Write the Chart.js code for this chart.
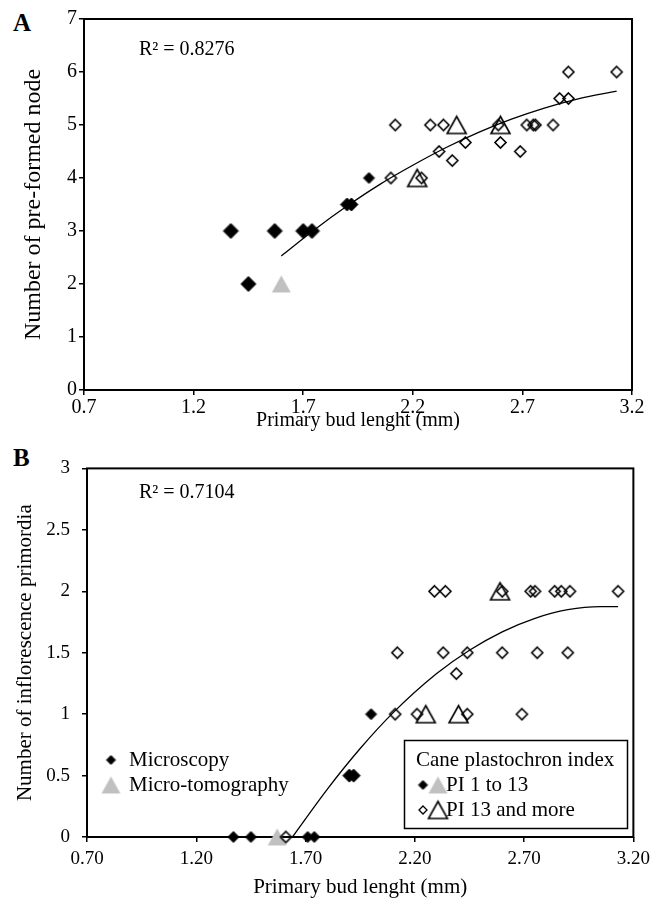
<!DOCTYPE html>
<html>
<head>
<meta charset="utf-8">
<title>Primary bud length</title>
<script src="https://cdn.jsdelivr.net/npm/chart.js@4/dist/chart.umd.min.js"></script>
<style>
  html, body { margin: 0; padding: 0; background: #fff; }
  body { position: relative; width: 656px; height: 908px; overflow: hidden; font-family: "Liberation Serif", "Times New Roman", serif; }
  canvas { position: absolute; left: 0; }
  #chartA { top: 0; }
  #chartB { top: 445px; }
  .tag { position: absolute; left: 13px; font-size: 25px; font-weight: bold; line-height: 1; }
</style>
</head>
<body>
<div class="tag" style="top: 10px;">A</div>
<div class="tag" style="top: 445px;">B</div>
<canvas id="chartA" width="656" height="445"></canvas>
<canvas id="chartB" width="656" height="463"></canvas>
<script>
// ---- panel A: pre-formed nodes ----
const xTicksA = [0.7, 1.2, 1.7, 2.2, 2.7, 3.2];
const xLabelsA = ['0.7', '1.2', '1.7', '2.2', '2.7', '3.2'];
const yTicksA = [0, 1, 2, 3, 4, 5, 6, 7];
const yLabelsA = ['0', '1', '2', '3', '4', '5', '6', '7'];

// microscopy, PI 1 to 13
const earlyMicroAx = [1.37, 1.45, 1.57, 1.70, 1.74, 1.90, 1.92, 2.00];
const earlyMicroAy = [3, 2, 3, 3, 3, 3.5, 3.5, 4];
// micro-tomography, PI 1 to 13
const earlyTomoAx = [1.60];
const earlyTomoAy = [2];
// microscopy, PI 13 and more
const lateMicroAx = [2.10, 2.12, 2.24, 2.28, 2.32, 2.34, 2.38, 2.44, 2.59, 2.60, 2.69, 2.72, 2.75, 2.76, 2.84, 2.87, 2.91, 2.91, 3.13];
const lateMicroAy = [4, 5, 4, 5, 4.5, 5, 4.33, 4.67, 5, 4.67, 4.5, 5, 5, 5, 5, 5.5, 5.5, 6, 6];
// micro-tomography, PI 13 and more
const lateTomoAx = [2.22, 2.40, 2.60];
const lateTomoAy = [4, 5, 5];
// fitted trend (R2 = 0.8276)
const trendAx = [1.60, 1.75, 1.90, 2.05, 2.20, 2.35, 2.50, 2.65, 2.80, 2.95, 3.13];
const trendAy = [2.53, 3.02, 3.47, 3.88, 4.24, 4.57, 4.86, 5.11, 5.32, 5.49, 5.64];

// ---- panel B: inflorescence primordia ----
const xTicksB = [0.7, 1.2, 1.7, 2.2, 2.7, 3.2];
const xLabelsB = ['0.70', '1.20', '1.70', '2.20', '2.70', '3.20'];
const yTicksB = [0, 0.5, 1, 1.5, 2, 2.5, 3];
const yLabelsB = ['0', '0.5', '1', '1.5', '2', '2.5', '3'];

const earlyMicroBx = [1.37, 1.45, 1.71, 1.74, 1.90, 1.92, 2.00];
const earlyMicroBy = [0, 0, 0, 0, 0.5, 0.5, 1];
const earlyTomoBx = [1.57];
const earlyTomoBy = [0];
const lateMicroBx = [1.61, 2.11, 2.21, 2.44, 2.69, 2.12, 2.33, 2.44, 2.60, 2.76, 2.90, 2.39, 2.29, 2.34, 2.60, 2.73, 2.75, 2.84, 2.87, 2.91, 3.13];
const lateMicroBy = [0, 1, 1, 1, 1, 1.5, 1.5, 1.5, 1.5, 1.5, 1.5, 1.33, 2, 2, 2, 2, 2, 2, 2, 2, 2];
const lateTomoBx = [2.25, 2.40, 2.59];
const lateTomoBy = [1, 1, 2];
// fitted trend (R2 = 0.7104)
const trendBx = [1.64, 1.80, 1.95, 2.10, 2.30, 2.45, 2.60, 2.75, 2.90, 3.05, 3.13];
const trendBy = [0, 0.39, 0.72, 1.01, 1.33, 1.52, 1.67, 1.78, 1.85, 1.875, 1.875];

const FONT = '"Liberation Serif", "Times New Roman", serif';
Chart.defaults.font.family = FONT;
Chart.defaults.color = '#000';

const pts = (xs, ys) => xs.map((x, i) => ({ x: x, y: ys[i] }));

// marker bitmaps, centred on their bounding box
function marker(shape, w, h, fill, stroke, lw) {
    const c = document.createElement('canvas');
    c.width = Math.ceil(w) + 6;
    c.height = Math.ceil(h) + 6;
    const g = c.getContext('2d');
    const cx = c.width / 2, cy = c.height / 2;
    g.beginPath();
    if (shape === 'diamond') {
        g.moveTo(cx, cy - h / 2);
        g.lineTo(cx + w / 2, cy);
        g.lineTo(cx, cy + h / 2);
        g.lineTo(cx - w / 2, cy);
    } else {
        g.moveTo(cx, cy - h / 2);
        g.lineTo(cx + w / 2, cy + h / 2);
        g.lineTo(cx - w / 2, cy + h / 2);
    }
    g.closePath();
    if (fill) { g.fillStyle = fill; g.fill(); }
    if (stroke) { g.lineWidth = lw; g.strokeStyle = stroke; g.stroke(); }
    return c;
}

const GREY = '#c0c0c0';
const blackBig = marker('diamond', 15, 15, '#000', '#000', 1);
const blackMid = marker('diamond', 13, 13, '#000', '#000', 1);
const blackSmall = marker('diamond', 11, 11, '#000', '#000', 1);
const blackTiny = marker('diamond', 9, 9, '#000', '#000', 1);
const openDia = marker('diamond', 11, 11, null, '#000', 1.6);
const openTiny = marker('diamond', 8, 8, null, '#000', 1.3);
const openTri = marker('triangle', 19, 17, null, '#000', 1.6);
const greyTri = marker('triangle', 19, 17, GREY, null, 0);

function scatterSet(data, style) {
    return { data: data, pointStyle: style, pointRadius: 8, pointHoverRadius: 8, showLine: false, clip: false, order: 1 };
}

function trendSet(data) {
    return {
        data: data, showLine: true, pointRadius: 0, borderColor: '#000', borderWidth: 1.3,
        cubicInterpolationMode: 'monotone', fill: false, clip: false, order: 2
    };
}

// box round the plot area
const frame = {
    id: 'frame',
    beforeDatasetsDraw(chart) {
        const { ctx, chartArea: a } = chart;
        ctx.save();
        ctx.lineWidth = 2;
        ctx.strokeStyle = '#000';
        ctx.strokeRect(a.left, a.top, a.right - a.left, a.bottom - a.top);
        ctx.restore();
    }
};

function rSquared(text, x, y) {
    return {
        id: 'rsq',
        afterDatasetsDraw(chart) {
            const ctx = chart.ctx;
            ctx.save();
            ctx.font = '20px ' + FONT;
            ctx.fillStyle = '#000';
            ctx.textBaseline = 'middle';
            ctx.fillText(text, x, y);
            ctx.restore();
        }
    };
}

function makePanel(id, o) {
    return new Chart(document.getElementById(id), {
        type: 'scatter',
        data: { datasets: o.datasets },
        options: {
            responsive: false,
            animation: false,
            events: [],
            layout: { padding: o.padding },
            plugins: { legend: { display: false }, tooltip: { enabled: false } },
            scales: {
                x: {
                    type: 'linear', min: 0.7, max: 3.2,
                    afterBuildTicks: s => { s.ticks = o.xTicks.map(v => ({ value: v })); },
                    afterFit: s => { s.height = o.xAxisH; },
                    ticks: { callback: (v, i) => o.xLabels[i], font: { size: o.tickSize }, padding: o.xPad, maxRotation: 0, autoSkip: false },
                    grid: { drawOnChartArea: false, tickLength: 5, color: '#000', lineWidth: 1.5 },
                    border: { display: false },
                    title: { display: true, text: 'Primary bud lenght (mm)', font: { size: o.xTitleSize }, padding: { top: 0, bottom: o.xTitlePad } }
                },
                y: {
                    type: 'linear', min: o.yTicks[0], max: o.yTicks[o.yTicks.length - 1],
                    afterBuildTicks: s => { s.ticks = o.yTicks.map(v => ({ value: v })); },
                    afterFit: s => { s.width = o.yAxisW; },
                    ticks: { callback: (v, i) => o.yLabels[i], font: { size: o.tickSize }, padding: o.yPad, autoSkip: false },
                    grid: { drawOnChartArea: false, tickLength: 5, color: '#000', lineWidth: 1.5 },
                    border: { display: false },
                    title: { display: true, text: o.yTitle, font: { size: o.yTitleSize }, padding: { top: o.yTitlePad, bottom: 0 } }
                }
            }
        },
        plugins: [frame].concat(o.extra)
    });
}

// legends of panel B: method on the left, plastochron index in the box
const legendB = {
    id: 'legendB',
    afterDatasetsDraw(chart) {
        const ctx = chart.ctx;
        const put = (img, x, y) => ctx.drawImage(img, x - img.width / 2, y - img.height / 2);
        ctx.save();
        ctx.font = '21px ' + FONT;
        ctx.fillStyle = '#000';
        ctx.textBaseline = 'middle';

        put(blackTiny, 111, 315);
        ctx.fillText('Microscopy', 129, 315);
        put(greyTri, 111, 340);
        ctx.fillText('Micro-tomography', 129, 340);

        ctx.fillStyle = '#fff';
        ctx.fillRect(404, 295, 224, 89);
        ctx.lineWidth = 1.5;
        ctx.strokeStyle = '#000';
        ctx.strokeRect(404.5, 295.5, 223, 88);
        ctx.fillStyle = '#000';
        ctx.fillText('Cane plastochron index', 416, 315);
        put(blackTiny, 423, 340);
        put(greyTri, 438, 340);
        ctx.fillText('PI 1 to 13', 446, 340);
        put(openTiny, 423, 365);
        put(openTri, 438, 365);
        ctx.fillText('PI 13 and more', 446, 365);
        ctx.restore();
    }
};

makePanel('chartA', {
    datasets: [
        trendSet(pts(trendAx, trendAy)),
        scatterSet(pts(lateMicroAx, lateMicroAy), openDia),
        scatterSet(pts(lateTomoAx, lateTomoAy), openTri),
        scatterSet(pts(earlyTomoAx, earlyTomoAy), greyTri),
        scatterSet(pts(earlyMicroAx, earlyMicroAy), [blackBig, blackBig, blackBig, blackBig, blackBig, blackMid, blackMid, blackSmall])
    ],
    padding: { top: 19, right: 24, bottom: 0, left: 0 },
    xTicks: xTicksA, xLabels: xLabelsA, yTicks: yTicksA, yLabels: yLabelsA,
    xAxisH: 55, yAxisW: 84, tickSize: 20, xPad: 1, yPad: 2,
    xTitleSize: 20, xTitlePad: 12,
    yTitle: 'Number of pre-formed node', yTitleSize: 24, yTitlePad: 19,
    extra: [rSquared('R² = 0.8276', 139, 50)]
});

makePanel('chartB', {
    datasets: [
        trendSet(pts(trendBx, trendBy)),
        scatterSet(pts(lateMicroBx, lateMicroBy), openDia),
        scatterSet(pts(lateTomoBx, lateTomoBy), openTri),
        scatterSet(pts(earlyTomoBx, earlyTomoBy), greyTri),
        scatterSet(pts(earlyMicroBx, earlyMicroBy), [blackSmall, blackSmall, blackSmall, blackSmall, blackMid, blackMid, blackSmall])
    ],
    padding: { top: 22, right: 21, bottom: 0, left: 0 },
    xTicks: xTicksB, xLabels: xLabelsB, yTicks: yTicksB, yLabels: yLabelsB,
    xAxisH: 71, yAxisW: 87, tickSize: 19, xPad: 6, yPad: 12,
    xTitleSize: 21, xTitlePad: 8,
    yTitle: 'Number of inflorescence primordia', yTitleSize: 21, yTitlePad: 13,
    extra: [rSquared('R² = 0.7104', 139, 48), legendB]
});
</script>
</body>
</html>
